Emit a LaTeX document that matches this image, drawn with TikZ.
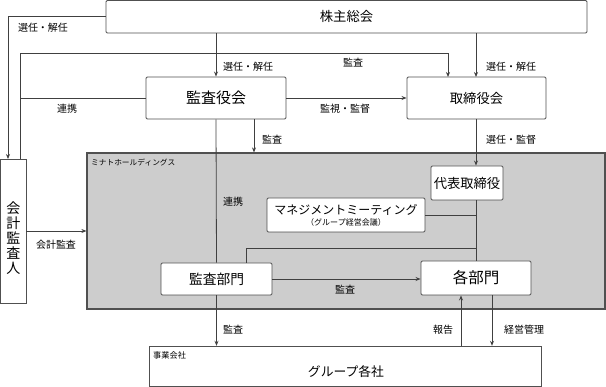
\documentclass[tikz,border=0pt]{standalone}
\usepackage{fontspec}
\setmainfont{Noto Sans CJK JP}
\usetikzlibrary{arrows.meta}
\definecolor{ln}{HTML}{404040}
\definecolor{bd}{HTML}{505050}
\definecolor{grp}{HTML}{CDCDCD}
\tikzset{
  box/.style={draw=bd, line width=0.9pt, fill=white, rounded corners=1.2pt, inner sep=0pt, anchor=center},
  conn/.style={draw=ln, line width=0.8pt},
  arr/.style={conn, -{Stealth[length=5pt,width=4pt]}},
  lab/.style={font=\fontsize{10}{12}\selectfont, inner sep=0pt, text=black},
  tiny/.style={font=\fontsize{7.7}{9}\selectfont, inner sep=0pt, anchor=west},
}
\begin{document}
\begin{tikzpicture}[x=1pt,y=-1pt]
\useasboundingbox (0,0) rectangle (606,387);
% group background
\node[draw=bd, line width=1.2pt, fill=grp, minimum width=518pt, minimum height=156pt, inner sep=0pt] (grp) at (346,231) {};
\node[tiny] (grpl) at (91,163) {ミナトホールディングス};
% boxes
\node[box, minimum width=481pt, minimum height=32.5pt, font=\fontsize{13.3}{15}\selectfont] (kabu) at (346.5,16.75) {株主総会};
\node[box, minimum width=140pt, minimum height=42pt, font=\fontsize{15}{17}\selectfont] (kansa) at (216,98) {監査役会};
\node[box, minimum width=139pt, minimum height=42pt, font=\fontsize{13.3}{15}\selectfont] (tori) at (476.5,98) {取締役会};
\node[box, rounded corners=0pt, minimum width=25.5pt, minimum height=144pt] (kaikei) at (13.25,231) {};
\node[font=\fontsize{14}{15}\selectfont, align=center, inner sep=0pt] (kaikeil) at (13.25,238) {会\\計\\監\\査\\人};
\node[box, minimum width=72pt, minimum height=34pt, font=\fontsize{13.3}{15}\selectfont] (daihyo) at (467,183) {代表取締役};
\node[box, minimum width=158pt, minimum height=34pt, align=center] (mm) at (346,215) {{\fontsize{12}{13}\selectfont マネジメントミーティング}\\[-1pt]{\fontsize{8}{9}\selectfont （グループ経営会議）}};
\node[box, minimum width=111pt, minimum height=32pt, font=\fontsize{13.75}{15}\selectfont] (kansabu) at (216.5,279) {監査部門};
\node[box, minimum width=110pt, minimum height=34pt, font=\fontsize{15.5}{17}\selectfont] (kakubu) at (476,278) {各部門};
\node[box, rounded corners=0pt, minimum width=392pt, minimum height=40pt] (jigyo) at (345,366.25) {};
\node[tiny, font=\fontsize{8.2}{9}\selectfont] (jigyol) at (153,355) {事業会社};
\node[font=\fontsize{12.8}{14}\selectfont, inner sep=0pt] (gk) at (346,372) {グループ各社};
% helper coordinates
\coordinate (k1) at (8,159);
\coordinate (k2) at (20,159);
\coordinate (t53) at (448,53);
\coordinate (t77) at (448,77);
\coordinate (b248) at (476,248);
\coordinate (c248) at (246,248);
\coordinate (c263) at (246,263);
\coordinate (mmr) at (476,215);
% connectors
\draw[arr] (kabu.west) -| (k1);
\draw[arr] (k2) |- (t53) -- (t77);
\draw[conn] (kansa.west) -- (kansa.west -| k2);
\draw[arr] (kabu.south -| kansa.north) -- (kansa.north);
\draw[arr] (kabu.south -| 476,0) -- (476,77);
\draw[arr] (kansa.east) -- (tori.west);
\draw[arr] (kansa.south -| 254,0) -- (grp.north -| 254,0);
\draw[conn] (kansa.south) -- (kansabu.north);
\draw[arr] (476,119) -- (daihyo.north -| 476,0);
\draw[conn] (daihyo.south -| 476,0) -- (kakubu.north);
\draw[conn] (mm.east) -- (mmr);
\draw[conn] (b248) -- (c248) -- (c263);
\draw[arr] (kansabu.east) -- (kansabu.east -| kakubu.west);
\draw[arr] (kansabu.south) -- (kansabu.south |- jigyo.north);
\draw[arr] (jigyo.north -| 461,0) -- (kakubu.south -| 461,0);
\draw[arr] (kakubu.south -| 492,0) -- (jigyo.north -| 492,0);
\draw[arr] (kaikei.east) -- (grp.west);
% labels
\node[lab] (l1) at (43,28) {選任・解任};
\node[lab] (l2) at (248,67) {選任・解任};
\node[lab] (l3) at (353,63) {監査};
\node[lab] (l4) at (511,67) {選任・解任};
\node[lab] (l5) at (67,109) {連携};
\node[lab] (l6) at (345,109) {監視・監督};
\node[lab] (l7) at (272,140) {監査};
\node[lab] (l8) at (511,140) {選任・監督};
\node[lab] (l9) at (233,202) {連携};
\node[lab] (l10) at (56,245) {会計監査};
\node[lab] (l11) at (345,290) {監査};
\node[lab] (l12) at (233,330) {監査};
\node[lab] (l13) at (443,330) {報告};
\node[lab] (l14) at (524,330) {経営管理};
\end{tikzpicture}
\end{document}
